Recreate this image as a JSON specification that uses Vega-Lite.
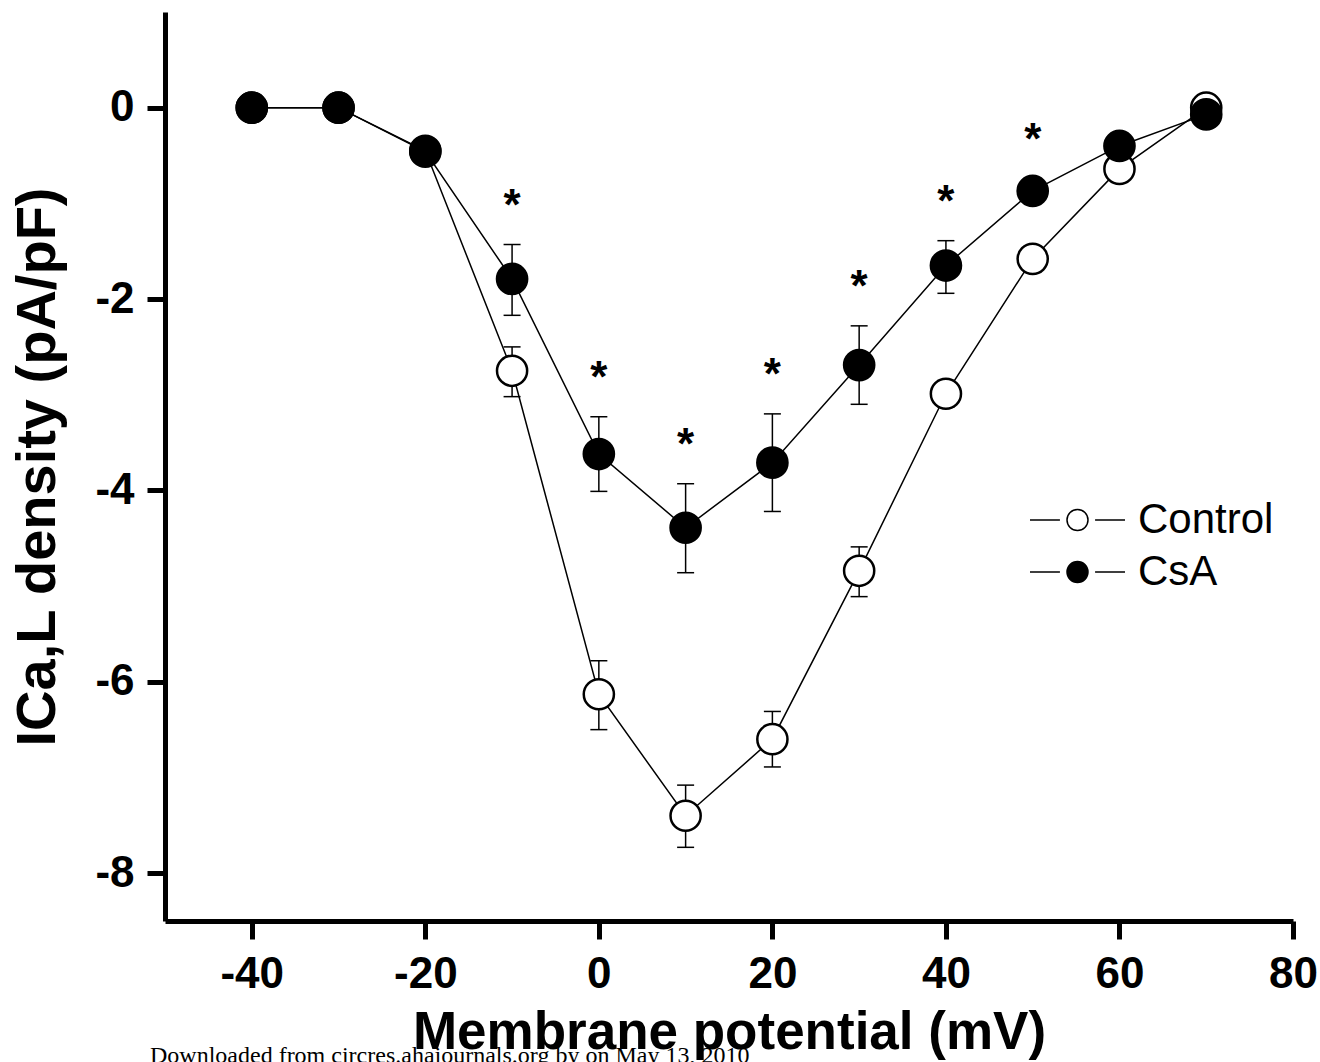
{
  "$schema": "https://vega.github.io/schema/vega-lite/v6.json",
  "width": 1128,
  "height": 909,
  "autosize": "none",
  "padding": {"left": 165, "top": 12, "right": 27, "bottom": 141},
  "background": "white",
  "config": {
    "view": {"stroke": null},
    "font": "Liberation Sans",
    "axis": {
      "grid": false,
      "domainColor": "black",
      "domainWidth": 5,
      "tickColor": "black",
      "tickWidth": 5,
      "tickSize": 18,
      "labelFont": "Liberation Sans",
      "labelFontSize": 44,
      "labelFontWeight": "bold",
      "labelColor": "black",
      "labelPadding": 13,
      "labelFlush": false,
      "labelOverlap": false,
      "titleFont": "Liberation Sans",
      "titleFontWeight": "bold",
      "titleColor": "black"
    }
  },
  "title": {
    "text": "Downloaded from circres.ahajournals.org by on May 13, 2010",
    "orient": "bottom",
    "anchor": "start",
    "frame": "group",
    "font": "Liberation Serif",
    "fontSize": 24,
    "fontWeight": "normal",
    "color": "black",
    "dx": -15,
    "offset": -15
  },
  "data": {
    "values": [
      {"series": "Control", "v": -40, "y": 0},
      {"series": "Control", "v": -30, "y": 0},
      {"series": "Control", "v": -20, "y": -0.45},
      {"series": "Control", "v": -10, "y": -2.75, "lo": -3.02, "hi": -2.50},
      {"series": "Control", "v": 0, "y": -6.13, "lo": -6.50, "hi": -5.78},
      {"series": "Control", "v": 10, "y": -7.40, "lo": -7.73, "hi": -7.08},
      {"series": "Control", "v": 20, "y": -6.60, "lo": -6.89, "hi": -6.31},
      {"series": "Control", "v": 30, "y": -4.84, "lo": -5.11, "hi": -4.59},
      {"series": "Control", "v": 40, "y": -2.99, "lo": -3.13, "hi": -2.85},
      {"series": "Control", "v": 50, "y": -1.58, "lo": -1.72, "hi": -1.47},
      {"series": "Control", "v": 60, "y": -0.64, "lo": -0.77, "hi": -0.52},
      {"series": "Control", "v": 70, "y": 0},
      {"series": "CsA", "v": -40, "y": 0},
      {"series": "CsA", "v": -30, "y": 0},
      {"series": "CsA", "v": -20, "y": -0.46},
      {"series": "CsA", "v": -10, "y": -1.79, "lo": -2.17, "hi": -1.43, "sig": true},
      {"series": "CsA", "v": 0, "y": -3.62, "lo": -4.01, "hi": -3.23, "sig": true},
      {"series": "CsA", "v": 10, "y": -4.39, "lo": -4.86, "hi": -3.93, "sig": true},
      {"series": "CsA", "v": 20, "y": -3.71, "lo": -4.22, "hi": -3.20, "sig": true},
      {"series": "CsA", "v": 30, "y": -2.69, "lo": -3.10, "hi": -2.28, "sig": true},
      {"series": "CsA", "v": 40, "y": -1.65, "lo": -1.94, "hi": -1.39, "sig": true},
      {"series": "CsA", "v": 50, "y": -0.87, "lo": -0.99, "hi": -0.75, "sig": true},
      {"series": "CsA", "v": 60, "y": -0.40},
      {"series": "CsA", "v": 70, "y": -0.07}
    ]
  },
  "encoding": {
    "x": {
      "field": "v",
      "type": "quantitative",
      "scale": {"domain": [-50, 80], "nice": false, "zero": false},
      "axis": {
        "values": [-40, -20, 0, 20, 40, 60, 80],
        "labelExpr": "'' + datum.value",
        "title": "Membrane potential (mV)",
        "titleFontSize": 53,
        "titlePadding": 10
      }
    }
  },
  "layer": [
    {
      "mark": {"type": "line", "color": "black", "strokeWidth": 1.5},
      "encoding": {
        "y": {
          "field": "y",
          "type": "quantitative",
          "scale": {"domain": [-8.5, 1], "nice": false, "zero": false},
          "axis": {
            "values": [0, -2, -4, -6, -8],
            "labelExpr": "'' + datum.value",
            "title": "ICa,L density (pA/pF)",
            "titleFontSize": 56,
            "titleBaseline": "alphabetic",
            "titlePadding": 40
          }
        },
        "detail": {"field": "series"}
      }
    },
    {
      "transform": [{"filter": "isValid(datum.lo)"}],
      "mark": {"type": "rule", "color": "black", "strokeWidth": 1.5},
      "encoding": {
        "y": {"field": "lo", "type": "quantitative"},
        "y2": {"field": "hi"}
      }
    },
    {
      "transform": [{"filter": "isValid(datum.lo)"}],
      "mark": {"type": "tick", "orient": "horizontal", "size": 17, "thickness": 1.5, "color": "black", "opacity": 1},
      "encoding": {"y": {"field": "lo", "type": "quantitative"}}
    },
    {
      "transform": [{"filter": "isValid(datum.hi)"}],
      "mark": {"type": "tick", "orient": "horizontal", "size": 17, "thickness": 1.5, "color": "black", "opacity": 1},
      "encoding": {"y": {"field": "hi", "type": "quantitative"}}
    },
    {
      "mark": {"type": "point", "shape": "circle", "filled": true, "stroke": "black", "strokeWidth": 2.5, "size": 910, "opacity": 1},
      "encoding": {
        "y": {"field": "y", "type": "quantitative"},
        "fill": {
          "field": "series",
          "type": "nominal",
          "scale": {"domain": ["Control", "CsA"], "range": ["white", "black"]},
          "legend": {
            "title": null,
            "orient": "none",
            "legendX": 864,
            "legendY": 482,
            "padding": 0,
            "rowPadding": 0,
            "clipHeight": 52,
            "symbolType": "M-1,0L-0.37,0M0.37,0L1,0M0.221,0A0.221,0.221,0,1,1,-0.221,0A0.221,0.221,0,1,1,0.221,0Z",
            "symbolSize": 9025,
            "symbolStrokeColor": "black",
            "symbolStrokeWidth": 1.5,
            "symbolOpacity": 1,
            "labelFont": "Liberation Sans",
            "labelFontSize": 42,
            "labelFontWeight": "normal",
            "labelColor": "black",
            "labelOffset": 12,
            "labelLimit": 400
          }
        }
      }
    },
    {
      "transform": [{"filter": "datum.sig === true"}],
      "mark": {"type": "text", "text": "*", "font": "Liberation Sans", "fontSize": 44, "fontWeight": "bold", "baseline": "alphabetic", "dy": -25, "color": "black"},
      "encoding": {"y": {"field": "hi", "type": "quantitative"}}
    }
  ]
}
